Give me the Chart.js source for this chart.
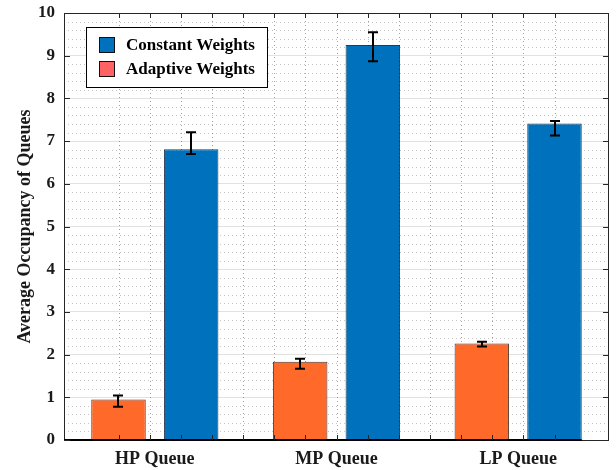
<!DOCTYPE html>
<html>
<head>
<meta charset="utf-8">
<script src="https://cdn.jsdelivr.net/npm/chart.js@4/dist/chart.umd.min.js"></script>
<style>
  html, body { margin: 0; padding: 0; background: #fff; }
  #wrap { width: 616px; height: 470px; }
</style>
</head>
<body>
<div id="wrap"><canvas id="c" width="616" height="470"></canvas></div>
<script>
// Queue categories
const categories = ['HP Queue', 'MP Queue', 'LP Queue'];

// Average occupancy with constant weights, and its error range
const constantWeights = [6.81, 9.25, 7.41];
const constantLow = [6.70, 8.87, 7.13];
const constantHigh = [7.21, 9.55, 7.47];

// Average occupancy with adaptive weights, and its error range
const adaptiveWeights = [0.95, 1.83, 2.26];
const adaptiveLow = [0.78, 1.67, 2.19];
const adaptiveHigh = [1.04, 1.90, 2.30];

// Y axis tick values
const yTicks = [0, 1, 2, 3, 4, 5, 6, 7, 8, 9, 10];

const FONT = '"Liberation Serif", "Times New Roman", serif';
const AXIS_COLOR = '#262626';

// Grid, box, inward ticks, error bars and legend
const decorations = {
  id: 'decorations',
  beforeDatasetsDraw(chart) {
    const { ctx, chartArea: a, scales } = chart;
    const y = scales.y, xm = scales.xm;
    ctx.save();
    ctx.lineWidth = 1;
    ctx.setLineDash([1, 3]);
    ctx.strokeStyle = 'rgba(140,140,140,0.5)';
    // minor horizontal lines every 0.2
    for (let i = 1; i < 50; i++) {
      if (i % 5 === 0) continue;
      const py = Math.round(y.getPixelForValue(i * 0.2)) + 0.5;
      ctx.beginPath(); ctx.moveTo(a.left, py); ctx.lineTo(a.right, py); ctx.stroke();
    }
    // minor vertical lines every 0.2
    ctx.strokeStyle = 'rgba(120,120,120,0.7)';
    for (let i = 3; i <= 17; i++) {
      const px = Math.round(xm.getPixelForValue(i * 0.2)) + 0.5;
      ctx.beginPath(); ctx.moveTo(px, a.top); ctx.lineTo(px, a.bottom); ctx.stroke();
    }
    ctx.restore();
  },
  afterDatasetsDraw(chart) {
    const { ctx, chartArea: a, scales } = chart;
    const y = scales.y, xm = scales.xm;
    ctx.save();

    // error bars
    const ranges = [[adaptiveLow, adaptiveHigh], [constantLow, constantHigh]];
    chart.data.datasets.forEach((ds, di) => {
      const meta = chart.getDatasetMeta(di);
      meta.data.forEach((bar, i) => {
        const x = Math.round(bar.x);
        const y1 = y.getPixelForValue(ranges[di][0][i]);
        const y2 = y.getPixelForValue(ranges[di][1][i]);
        ctx.strokeStyle = '#000';
        ctx.lineWidth = 2;
        ctx.beginPath();
        ctx.moveTo(x, y1); ctx.lineTo(x, y2);
        ctx.moveTo(x - 5, y1); ctx.lineTo(x + 5, y1);
        ctx.moveTo(x - 5, y2); ctx.lineTo(x + 5, y2);
        ctx.stroke();
      });
    });

    // box
    ctx.strokeStyle = AXIS_COLOR;
    ctx.lineWidth = 1;
    ctx.strokeRect(Math.round(a.left) + 0.5, Math.round(a.top) + 0.5,
                   Math.round(a.right - a.left) - 1, Math.round(a.bottom - a.top));

    // bar baseline
    const lastMeta = chart.getDatasetMeta(1);
    const lastBar = lastMeta.data[lastMeta.data.length - 1];
    const base = Math.round(y.getPixelForValue(0));
    ctx.strokeStyle = '#000';
    ctx.lineWidth = 2;
    ctx.beginPath(); ctx.moveTo(a.left, base); ctx.lineTo(lastBar.x + lastBar.width / 2, base); ctx.stroke();

    // inward ticks
    ctx.strokeStyle = AXIS_COLOR;
    ctx.lineWidth = 1;
    ctx.beginPath();
    yTicks.forEach(v => {
      const py = Math.round(y.getPixelForValue(v)) + 0.5;
      ctx.moveTo(a.left, py); ctx.lineTo(a.left + 6, py);
      ctx.moveTo(a.right, py); ctx.lineTo(a.right - 6, py);
    });
    for (let i = 3; i <= 17; i++) {
      const px = Math.round(xm.getPixelForValue(i * 0.2)) + 0.5;
      ctx.moveTo(px, a.bottom); ctx.lineTo(px, a.bottom - 5);
      ctx.moveTo(px, a.top); ctx.lineTo(px, a.top + 5);
    }
    ctx.stroke();

    // legend
    const lx = 86, ly = 27, lw = 181, lh = 60;
    ctx.fillStyle = '#fff';
    ctx.fillRect(lx, ly, lw, lh);
    ctx.strokeStyle = '#000';
    ctx.lineWidth = 1;
    ctx.strokeRect(lx + 0.5, ly + 0.5, lw, lh);
    const items = [chart.data.datasets[1], chart.data.datasets[0]];
    ctx.font = 'bold 17px ' + FONT;
    ctx.textBaseline = 'middle';
    ctx.textAlign = 'left';
    items.forEach((ds, k) => {
      const cy = ly + 18 + k * 24;
      ctx.fillStyle = ds.legendColor;
      ctx.fillRect(99, cy - 8, 16, 16);
      ctx.strokeStyle = '#111';
      ctx.strokeRect(99.5, cy - 7.5, 15, 15);
      ctx.fillStyle = '#000';
      ctx.fillText(ds.label, 126, cy + 1);
    });
    ctx.restore();
  }
};

new Chart(document.getElementById('c'), {
  type: 'bar',
  data: {
    labels: categories,
    datasets: [
      {
        label: 'Adaptive Weights',
        data: adaptiveWeights,
        backgroundColor: '#FF6929',
        legendColor: '#FF6262',
        borderColor: 'rgba(40,20,10,0.85)',
        borderWidth: 1,
        categoryPercentage: 0.8,
        barPercentage: 0.75
      },
      {
        label: 'Constant Weights',
        data: constantWeights,
        backgroundColor: '#0072BD',
        legendColor: '#0072BD',
        borderColor: 'rgba(10,20,40,0.85)',
        borderWidth: 1,
        categoryPercentage: 0.8,
        barPercentage: 0.75
      }
    ]
  },
  options: {
    responsive: false,
    animation: false,
    devicePixelRatio: 1,
    layout: { padding: { left: 0, top: 13, right: 7, bottom: 0 } },
    plugins: { legend: { display: false }, tooltip: { enabled: false } },
    scales: {
      x: {
        type: 'category',
        grid: { display: false, drawTicks: false },
        border: { display: false },
        ticks: { color: '#1a1a1a', padding: 9, font: { family: FONT, size: 18, weight: 'bold' } },
        afterFit(s) { s.height = 30; s.paddingLeft = 0; s.paddingRight = 0; }
      },
      xm: {
        type: 'linear',
        display: false,
        min: 0.5,
        max: 3.5
      },
      y: {
        min: 0,
        max: 10,
        afterBuildTicks(s) { s.ticks = yTicks.map(v => ({ value: v })); },
        grid: { color: '#e2e2e2', lineWidth: 1, drawTicks: false },
        border: { display: false },
        ticks: { color: '#1a1a1a', padding: 9, font: { family: FONT, size: 17, weight: 'bold' } },
        title: {
          display: true,
          text: 'Average Occupancy of Queues',
          color: '#1a1a1a',
          padding: { top: 15, bottom: 0 },
          font: { family: FONT, size: 18, weight: 'bold' }
        },
        afterFit(s) { s.width = 64; s.paddingTop = 0; s.paddingBottom = 0; }
      }
    }
  },
  plugins: [decorations]
});
</script>
</body>
</html>
